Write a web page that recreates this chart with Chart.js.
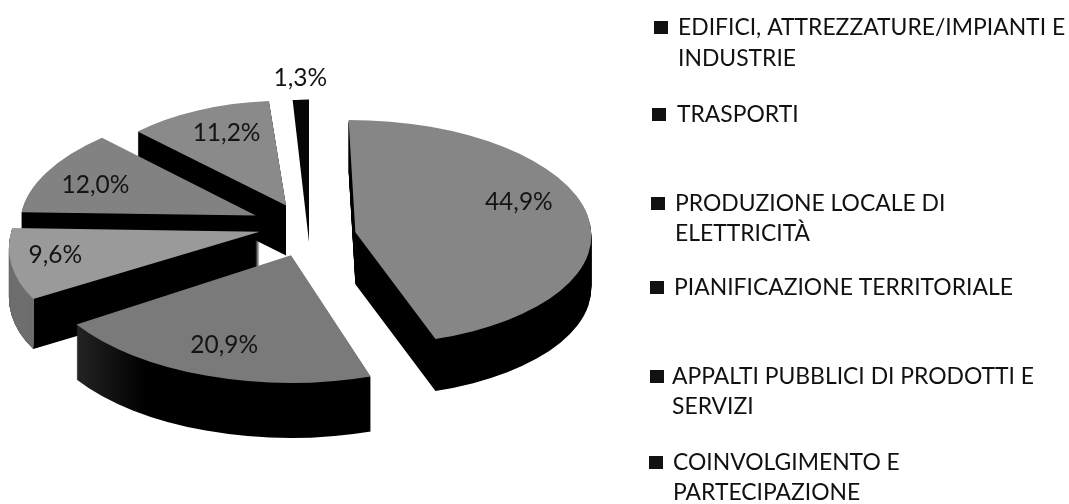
<!DOCTYPE html>
<html><head><meta charset="utf-8">
<style>html,body{margin:0;padding:0;background:#fff}canvas{display:block}</style>
<script src="https://cdn.jsdelivr.net/npm/chart.js@4"></script>
</head><body><canvas id="c" width="1069" height="504"></canvas>
<script>
const categories=["EDIFICI, ATTREZZATURE/IMPIANTI E INDUSTRIE","TRASPORTI","PRODUZIONE LOCALE DI ELETTRICITÀ","PIANIFICAZIONE TERRITORIALE","APPALTI PUBBLICI DI PRODOTTI E SERVIZI","COINVOLGIMENTO E PARTECIPAZIONE"];
const legendLines=[["EDIFICI, ATTREZZATURE/IMPIANTI E","INDUSTRIE"],["TRASPORTI"],["PRODUZIONE LOCALE DI","ELETTRICITÀ"],["PIANIFICAZIONE TERRITORIALE"],["APPALTI PUBBLICI DI PRODOTTI E","SERVIZI"],["COINVOLGIMENTO E","PARTECIPAZIONE"]];
const sliceLabels=["44,9%","20,9%","9,6%","12,0%","11,2%","1,3%"];
const values=[44.9,20.9,9.6,12.0,11.2,1.3];

const topColors=["#868686","#7a7a7a","#9a9a9a","#828282","#8a8a8a","#060606"];
const explode=[50,45,42,45,45,0];
const radiusFactor=[1.035,1.12,1.09,1.03,0.92,0.88];
const squash=[0.476,0.5,0.5,0.47,0.5,0.71];
const depth=[52,55,50,50,50,0];
const nudge=[[6,8],[6,6],[0,-2],[-3,-4],[5,-2],[9,14]];
const shear=[0.06,0,-0.26,-0.16,0,0];
const labelFrac=[0.71,0.55,0.82,0.72,0.72,1.05];
const labelShift=[[4,-10],[-14,30],[-8,-6],[-8,-3],[9,-6],[9,0]];
const legendLayout=[{x:678,mx:654,y:[28,59]},{x:677,mx:652,y:[115]},{x:675,mx:651,y:[204,234]},{x:674,mx:650,y:[288]},{x:672,mx:650,y:[377,407]},{x:673,mx:649,y:[463,493]}];

const pie3d={id:'pie3d',
 beforeDatasetsDraw(chart){
  const ctx=chart.ctx, arcs=chart.getDatasetMeta(0).data;
  const place=(a,i)=>{const mid=(a.startAngle+a.endAngle)/2;
    const ox=Math.cos(mid)*explode[i]+nudge[i][0], oy=Math.sin(mid)*explode[i]*squash[i]+nudge[i][1];
    ctx.translate(a.x+ox,a.y+oy);ctx.transform(1,0,shear[i],1,0,0);ctx.scale(radiusFactor[i],radiusFactor[i]*squash[i]);ctx.translate(-a.x,-a.y);};
  const extrude=(a,i)=>{for(let d=depth[i];d>0;d-=1){ctx.save();ctx.translate(0,d);place(a,i);a.draw(ctx);ctx.restore();}};
  for(let i=arcs.length-1;i>=0;i--){
    const a=arcs[i], orig=a.options;
    let side='#000';
    if(i===1){const g=ctx.createLinearGradient(70,0,170,0);g.addColorStop(0,'#3a3a3a');g.addColorStop(1,'#000');side=g;}
    a.options=Object.assign({},orig,{backgroundColor:side,borderWidth:0});
    extrude(a,i);
    if(i===2){ // the curved outer wall of this slice reads lighter than its cut face
      const mid=(a.startAngle+a.endAngle)/2,R=a.outerRadius*radiusFactor[i];
      const cornerX=a.x+Math.cos(mid)*explode[i]+nudge[i][0]+Math.cos(a.startAngle)*R+shear[i]*Math.sin(a.startAngle)*R*squash[i];
      a.options=Object.assign({},orig,{backgroundColor:'#6e6e6e',borderWidth:0});
      ctx.save();ctx.beginPath();ctx.rect(0,0,cornerX,504);ctx.clip();extrude(a,i);ctx.restore();
    }
    a.options=Object.assign({},orig,{borderWidth:0});
    ctx.save();place(a,i);a.draw(ctx);ctx.restore();
    a.options=orig;
  }
  ctx.save();ctx.textAlign='center';ctx.textBaseline='middle';ctx.font='24.5px Lato';
  arcs.forEach((a,i)=>{const mid=(a.startAngle+a.endAngle)/2,r=a.outerRadius*radiusFactor[i]*labelFrac[i];
    const x=a.x+Math.cos(mid)*(explode[i]+r)+labelShift[i][0], y=a.y+Math.sin(mid)*(explode[i]+r)*squash[i]+labelShift[i][1];
    ctx.fillStyle='#141414';ctx.fillText(sliceLabels[i],x,y);});
  ctx.restore();
  return false;
 },
 afterDraw(chart){
  const ctx=chart.ctx;ctx.save();ctx.textBaseline='middle';ctx.textAlign='left';ctx.font='22.9px Lato';
  legendLines.forEach((lines,i)=>{const L=legendLayout[i];
    ctx.fillStyle='#111';ctx.fillRect(L.mx,L.y[0]-7,14,13);
    lines.forEach((t,j)=>ctx.fillText(t,L.x,L.y[j]));});
  ctx.restore();
 }};

new Chart(document.getElementById('c'),{type:'pie',
 data:{labels:categories,datasets:[{data:values,backgroundColor:topColors,borderWidth:0}]},
 options:{responsive:false,animation:false,
  layout:{padding:{left:0,right:469,top:0,bottom:48}},
  plugins:{legend:{display:false},tooltip:{enabled:false}}},
 plugins:[pie3d]});
</script></body></html>
